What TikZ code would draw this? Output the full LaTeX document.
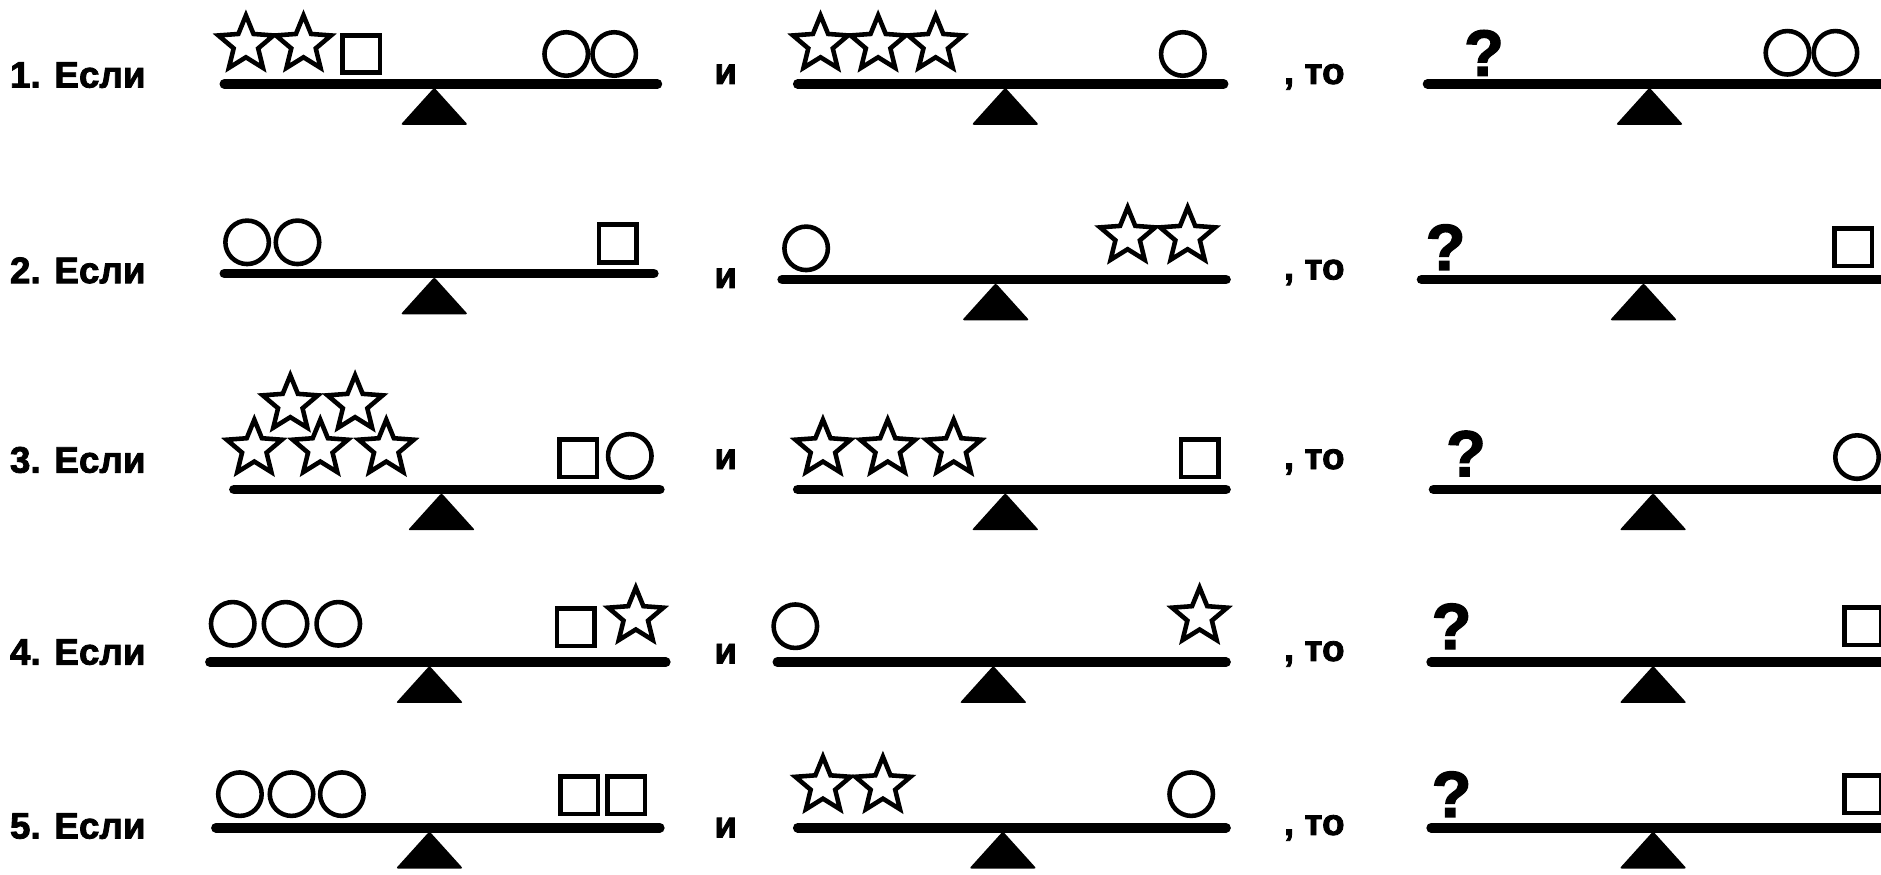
\documentclass[tikz,border=0pt]{standalone}
\usepackage{fontspec}
\setmainfont{Liberation Sans}
\newfontfamily\heavy{Liberation Sans}[FakeBold=2.2]
\usetikzlibrary{shapes.geometric}
\tikzset{
    weight/.style={draw, line width=2.6pt, fill=white, inner sep=0pt},
    ball/.style={weight, circle, minimum size=8.7mm},
    cube/.style={weight, rectangle, minimum size=7.5mm},
    starw/.style={weight, star, star points=5, star point ratio=2.25,
                  minimum size=11.6mm},
    beam/.style={line width=5.5pt, line cap=round},
    pivot/.style={fill, rounded corners=1.2pt},
    cond/.style={font=\heavy\bfseries\fontsize{21}{24}\selectfont,
                 anchor=base west, inner sep=0pt},
    link/.style={cond, anchor=base},
    ask/.style={font=\heavy\bfseries\fontsize{37}{40}\selectfont,
                anchor=base, inner sep=0pt},
}
% seesaw: name, left end, right end, beam height, pivot
\newcommand\seesaw[5]{%
    \coordinate (#1l) at (#2,#4);
    \coordinate (#1r) at (#3,#4);
    \draw[beam] (#1l) -- (#1r);
    \fill[pivot] (#5,#4+3) -- (#5+28,#4+34) -- (#5-28,#4+34) -- cycle;
}

\begin{document}
\begin{tikzpicture}[x=0.024cm, y=-0.024cm]
    \useasboundingbox (0,0) rectangle (1568,729);

    % row 1
    \node[cond] (if1) at (8,73) {1. Если};
    \seesaw{a1}{187}{548}{70}{362}
    \node[starw] (a1s1) at (205,37) {};
    \node[starw] (a1s2) at (253,37) {};
    \node[cube] (a1q1) at (301,45) {};
    \node[ball] (a1b1) at (472,45) {};
    \node[ball] (a1b2) at (512,45) {};
    \node[link] (and1) at (605,70) {и};
    \seesaw{b1}{665}{1020}{70}{838}
    \node[starw] (b1s1) at (684,37) {};
    \node[starw] (b1s2) at (732,37) {};
    \node[starw] (b1s3) at (780,37) {};
    \node[ball] (b1b1) at (986,45) {};
    \node[cond] (then1) at (1070,70) {, то};
    \seesaw{c1}{1190}{1575}{70}{1375}
    \node[ask] (c1x) at (1237,63) {?};
    \node[ball] (c1b1) at (1490,44) {};
    \node[ball] (c1b2) at (1530,44) {};

    % row 2
    \node[cond] (if2) at (8,236) {2. Если};
    \seesaw{a2}{187}{545}{228}{362}
    \node[ball] (a2b1) at (206,202) {};
    \node[ball] (a2b2) at (248,202) {};
    \node[cube] (a2q1) at (515,203) {};
    \node[link] (and2) at (605,240) {и};
    \seesaw{b2}{652}{1022}{233}{830}
    \node[ball] (b2b1) at (672,207) {};
    \node[starw] (b2s1) at (940,197) {};
    \node[starw] (b2s2) at (990,197) {};
    \node[cond] (then2) at (1070,233) {, то};
    \seesaw{c2}{1185}{1575}{233}{1370}
    \node[ask] (c2x) at (1205,225) {?};
    \node[cube] (c2q1) at (1545,206) {};

    % row 3
    \node[cond] (if3) at (8,394) {3. Если};
    \seesaw{a3}{195}{550}{408}{368}
    \node[starw] (a3s4) at (242,337) {};
    \node[starw] (a3s5) at (296,337) {};
    \node[starw] (a3s1) at (212,374) {};
    \node[starw] (a3s2) at (267,374) {};
    \node[starw] (a3s3) at (322,374) {};
    \node[cube] (a3q1) at (482,382) {};
    \node[ball] (a3b1) at (525,380) {};
    \node[link] (and3) at (605,391) {и};
    \seesaw{b3}{665}{1022}{408}{838}
    \node[starw] (b3s1) at (686,374) {};
    \node[starw] (b3s2) at (740,374) {};
    \node[starw] (b3s3) at (795,374) {};
    \node[cube] (b3q1) at (1000,382) {};
    \node[cond] (then3) at (1070,391) {, то};
    \seesaw{c3}{1195}{1575}{408}{1378}
    \node[ask] (c3x) at (1222,397) {?};
    \node[ball] (c3b1) at (1548,381) {};

    % row 4
    \node[cond] (if4) at (8,554) {4. Если};
    \seesaw{a4}{175}{555}{552}{358}
    \node[ball] (a4b1) at (194,520) {};
    \node[ball] (a4b2) at (238,520) {};
    \node[ball] (a4b3) at (282,520) {};
    \node[cube] (a4q1) at (480,523) {};
    \node[starw] (a4s1) at (530,514) {};
    \node[link] (and4) at (605,553) {и};
    \seesaw{b4}{648}{1022}{552}{828}
    \node[ball] (b4b1) at (663,522) {};
    \node[starw] (b4s1) at (1000,514) {};
    \node[cond] (then4) at (1070,551) {, то};
    \seesaw{c4}{1193}{1575}{552}{1378}
    \node[ask] (c4x) at (1210,541) {?};
    \node[cube] (c4q1) at (1553,522) {};

    % row 5
    \node[cond] (if5) at (8,699) {5. Если};
    \seesaw{a5}{180}{550}{690}{358}
    \node[ball] (a5b1) at (200,662) {};
    \node[ball] (a5b2) at (243,662) {};
    \node[ball] (a5b3) at (285,662) {};
    \node[cube] (a5q1) at (483,663) {};
    \node[cube] (a5q2) at (522,663) {};
    \node[link] (and5) at (605,698) {и};
    \seesaw{b5}{665}{1022}{690}{836}
    \node[starw] (b5s1) at (686,655) {};
    \node[starw] (b5s2) at (736,655) {};
    \node[ball] (b5b1) at (993,662) {};
    \node[cond] (then5) at (1070,696) {, то};
    \seesaw{c5}{1193}{1575}{690}{1378}
    \node[ask] (c5x) at (1210,681) {?};
    \node[cube] (c5q1) at (1553,662) {};
\end{tikzpicture}
\end{document}
